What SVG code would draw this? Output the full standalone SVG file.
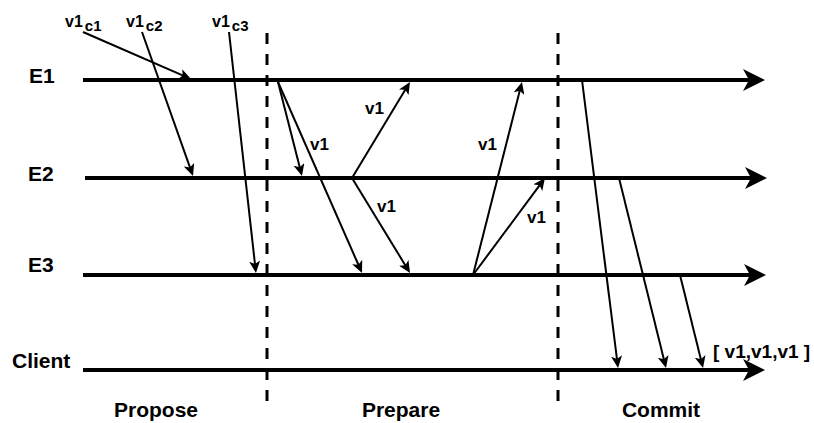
<svg xmlns="http://www.w3.org/2000/svg" width="814" height="423" viewBox="0 0 814 423">
<style>
  text { font-family: "Liberation Sans", Arial, sans-serif; font-weight: bold; fill: #000; }
  .lbl { font-size: 21px; }
  .msg { font-size: 17px; }
  .top { font-size: 16px; }
  .sub { font-size: 15px; }
  .res { font-size: 19px; }
  .axis { stroke: #000; stroke-width: 4; fill: none; marker-end: url(#big); }
  .arr { stroke: #000; stroke-width: 2; fill: none; marker-end: url(#small); }
  .phase { stroke: #000; stroke-width: 3; stroke-dasharray: 11 10; fill: none; }
</style>
<defs>
  <marker id="big" markerUnits="userSpaceOnUse" viewBox="0 0 22 22" markerWidth="22" markerHeight="22" refX="12" refY="11" orient="auto">
    <path d="M0,0 L22,11 L0,22 L6,11 Z" fill="#000"/>
  </marker>
  <marker id="small" markerUnits="userSpaceOnUse" viewBox="0 0 12 11" markerWidth="12" markerHeight="11" refX="6" refY="5.5" orient="auto">
    <path d="M0,0 L12,5.5 L0,11 L3,5.5 Z" fill="#000"/>
  </marker>
</defs>

<g id="phases">
  <line class="phase" x1="267" y1="33" x2="267" y2="410"/>
  <line class="phase" x1="558" y1="33" x2="558" y2="410"/>
  <text class="lbl" x="156" y="416.5" text-anchor="middle">Propose</text>
  <text class="lbl" x="401" y="416.5" text-anchor="middle">Prepare</text>
  <text class="lbl" x="661" y="416.5" text-anchor="middle">Commit</text>
</g>

<g id="E1">
  <text class="lbl" x="29" y="83">E1</text>
  <line class="axis" x1="83" y1="80" x2="755" y2="80"/>
</g>
<g id="E2">
  <text class="lbl" x="28" y="181">E2</text>
  <line class="axis" x1="85" y1="178" x2="757" y2="178"/>
</g>
<g id="E3">
  <text class="lbl" x="28" y="272">E3</text>
  <line class="axis" x1="83" y1="275" x2="756" y2="275"/>
</g>
<g id="Client">
  <text class="lbl" x="12" y="368">Client</text>
  <line class="axis" x1="83" y1="370" x2="755" y2="370"/>
  <text class="res" x="713" y="358">[ v1,v1,v1 ]</text>
</g>

<g id="proposals">
  <text class="top" x="65" y="27">v1<tspan class="sub" dx="2" dy="4">c1</tspan></text>
  <text class="top" x="126" y="27">v1<tspan class="sub" dx="2" dy="4">c2</tspan></text>
  <text class="top" x="212" y="27">v1<tspan class="sub" dx="2" dy="4">c3</tspan></text>
</g>

<g id="connectors">
  <line class="arr" x1="83" y1="32" x2="185.5" y2="76.6"/>
  <line class="arr" x1="142" y1="32" x2="191" y2="170.3"/>
  <line class="arr" x1="229" y1="32" x2="255.3" y2="267"/>

  <line class="arr" x1="278" y1="82" x2="300.5" y2="170.2"/>
  <line class="arr" x1="278" y1="82" x2="359.6" y2="267.5"/>
  <line class="arr" x1="352" y1="178" x2="406.9" y2="87.1"/>
  <line class="arr" x1="352" y1="178" x2="406.9" y2="267.9"/>
  <line class="arr" x1="473" y1="275" x2="520.5" y2="87.8"/>
  <line class="arr" x1="473" y1="275" x2="541.4" y2="182.8"/>

  <line class="arr" x1="582" y1="80" x2="617.3" y2="362"/>
  <line class="arr" x1="619" y1="178" x2="664.6" y2="362.2"/>
  <line class="arr" x1="680" y1="275" x2="701.6" y2="362.2"/>

  <text class="msg" x="310" y="150">v1</text>
  <text class="msg" x="365" y="114">v1</text>
  <text class="msg" x="377" y="212">v1</text>
  <text class="msg" x="478" y="150">v1</text>
  <text class="msg" x="527" y="223">v1</text>
</g>
</svg>
